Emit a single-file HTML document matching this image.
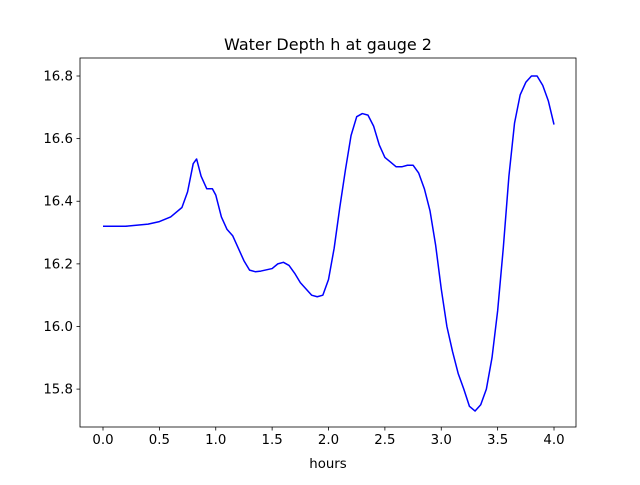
<!DOCTYPE html>
<html><head><meta charset="utf-8"><style>
body{margin:0;background:#fff;}
svg text{font-family:"DejaVu Sans","Liberation Sans",sans-serif;}
</style></head><body>
<svg width="640" height="480" xmlns="http://www.w3.org/2000/svg">
<rect width="640" height="480" fill="#fff"/>
<g id="plot"></g>
</svg>
<script>
const times=[0,0.2,0.4,0.5,0.6,0.7,0.75,0.8,0.83,0.87,0.92,0.97,1.0,1.05,1.1,1.15,1.2,1.25,1.3,1.35,1.4,1.5,1.55,1.6,1.65,1.7,1.75,1.8,1.85,1.9,1.95,2.0,2.05,2.1,2.15,2.2,2.25,2.3,2.35,2.4,2.45,2.5,2.55,2.6,2.65,2.7,2.75,2.8,2.85,2.9,2.95,3.0,3.05,3.1,3.15,3.2,3.25,3.3,3.35,3.4,3.45,3.5,3.55,3.6,3.65,3.7,3.75,3.8,3.85,3.9,3.95,4.0];
const depth=[16.32,16.32,16.327,16.335,16.35,16.38,16.43,16.52,16.535,16.48,16.44,16.44,16.42,16.35,16.31,16.29,16.25,16.21,16.18,16.175,16.177,16.185,16.2,16.205,16.195,16.17,16.14,16.12,16.10,16.095,16.10,16.15,16.25,16.38,16.50,16.61,16.67,16.68,16.675,16.64,16.58,16.54,16.525,16.51,16.51,16.515,16.515,16.49,16.44,16.37,16.26,16.12,16.00,15.92,15.85,15.80,15.745,15.73,15.75,15.80,15.90,16.05,16.25,16.48,16.65,16.74,16.78,16.80,16.80,16.77,16.72,16.645];
const xTicks=[0,0.5,1,1.5,2,2.5,3,3.5,4];
const xTickLabels=["0.0","0.5","1.0","1.5","2.0","2.5","3.0","3.5","4.0"];
const yTicks=[15.8,16.0,16.2,16.4,16.6,16.8];
const yTickLabels=["15.8","16.0","16.2","16.4","16.6","16.8"];

const L=80,R=576,T=58,B=427;
const x0=-0.204,x1=4.195,y0=15.679,y1=16.8575;
const sx=v=>L+(v-x0)/(x1-x0)*(R-L);
const sy=v=>B-(v-y0)/(y1-y0)*(B-T);
const NS="http://www.w3.org/2000/svg";
const g=document.getElementById('plot');
function mk(tag,attrs,parent){const e=document.createElementNS(NS,tag);for(const k in attrs)e.setAttribute(k,attrs[k]);(parent||g).appendChild(e);return e;}

let d=times.map((t,i)=>(i?'L':'M')+sx(t).toFixed(2)+','+sy(depth[i]).toFixed(2)).join('');
const line=mk('path',{d:d,fill:'none',stroke:'#0000ff','stroke-width':1.5,'stroke-linejoin':'round'});



const frame=mk('rect',{x:L,y:T,width:R-L,height:B-T,fill:'none',stroke:'#000','stroke-width':0.8});



xTicks.forEach((v,i)=>{
  const x=sx(v);
  mk('line',{x1:x,x2:x,y1:B,y2:B+3.5,stroke:'#000','stroke-width':0.8});
  const t=mk('text',{x:x,y:B+17,'text-anchor':'middle','font-size':10*1.0+'pt'});
  t.textContent=xTickLabels[i];
  
  
});
yTicks.forEach((v,i)=>{
  const y=sy(v);
  mk('line',{x1:L-3.5,x2:L,y1:y,y2:y,stroke:'#000','stroke-width':0.8});
  const t=mk('text',{x:L-7,y:y+4.5,'text-anchor':'end','font-size':'10pt'});
  t.textContent=yTickLabels[i];
  
  
});
const xt=mk('text',{x:(L+R)/2,y:468,'text-anchor':'middle','font-size':'10pt'});
xt.textContent='hours';


const tt=mk('text',{x:(L+R)/2,y:50,'text-anchor':'middle','font-size':'12pt'});
tt.textContent='Water Depth h at gauge 2';


</script>
</body></html>
